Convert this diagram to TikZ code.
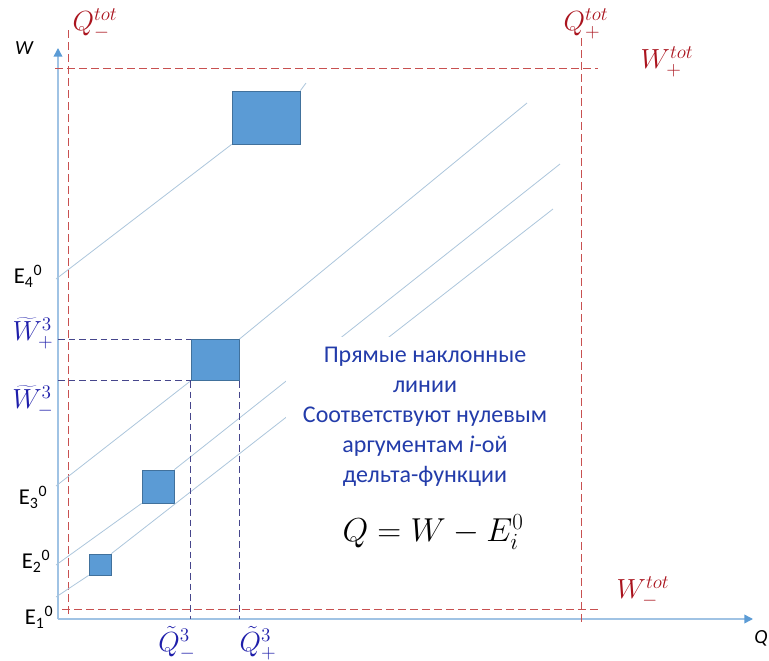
\documentclass[tikz,border=0pt]{standalone}
\usepackage[no-math]{fontspec}
\setmainfont{Carlito}
\usetikzlibrary{arrows.meta}
\definecolor{axisblue}{RGB}{160,195,228}
\definecolor{tipblue}{RGB}{91,155,213}
\definecolor{diagblue}{RGB}{172,198,220}
\definecolor{limred}{RGB}{200,80,80}
\definecolor{totred}{RGB}{170,20,30}
\definecolor{blkfill}{RGB}{91,155,213}
\definecolor{blkdraw}{RGB}{65,113,156}
\definecolor{projblue}{RGB}{70,70,140}
\definecolor{lblblue}{RGB}{30,30,170}
\definecolor{noteblue}{RGB}{35,60,170}
\begin{document}
\begin{tikzpicture}[x=0.75pt, y=-0.75pt,
  ax/.style={draw=axisblue, line width=1.1pt, -{Triangle[width=6.5pt,length=6.5pt,color=tipblue]}},
  axlbl/.style={font=\fontsize{15}{18}\selectfont\itshape, inner sep=0pt},
  lim/.style={draw=limred, line width=0.7pt, dash pattern=on 6pt off 3pt},
  proj/.style={draw=projblue, line width=0.8pt, dash pattern=on 5pt off 3pt},
  diag/.style={draw=diagblue, line width=0.6pt},
  blk/.style={fill=blkfill, draw=blkdraw, line width=0.6pt, inner sep=0pt},
  totl/.style={text=totred, font=\fontsize{22}{26}\selectfont, inner sep=0pt},
  tl/.style={text=lblblue, font=\fontsize{21}{25}\selectfont, inner sep=0pt},
  el/.style={font=\fontsize{17}{20}\selectfont, inner sep=0pt},
  note/.style={fill=white, text=noteblue, align=center, inner sep=0pt,
        minimum width=208pt, minimum height=120pt,
        font=\fontsize{18}{22.5}\selectfont},
]
  \useasboundingbox (0,0) rectangle (769,661);
  % axes
  \coordinate (o) at (58,619);
  \coordinate (wtop) at (58,48);
  \coordinate (qend) at (753,619);
  \draw[ax] (o) -- (wtop);
  \draw[ax] (o) -- (qend);
  \node[axlbl] (wlbl) at (24,48) {W};
  \node[axlbl] (qlbl) at (761,638) {Q};
  % total limits
  \draw[lim] (68,30) -- (68,614);
  \draw[lim] (581,38) -- (581,624);
  \draw[lim] (55,68) -- (598,68);
  \draw[lim] (62,609) -- (598,609);
  \node[totl] (qmin) at (95,24) {$Q_-^{tot}$};
  \node[totl] (qmax) at (586,24) {$Q_+^{tot}$};
  \node[totl] (wmax) at (667,62) {$W_+^{tot}$};
  \node[totl] (wmin) at (643,592) {$W_-^{tot}$};
  % blocks
  \node[blk, minimum width=51pt, minimum height=39.75pt] (s4) at (266,117.5) {};
  \node[blk, minimum width=36pt, minimum height=30.75pt] (s3) at (215,360) {};
  \node[blk, minimum width=24pt, minimum height=24.75pt] (s2) at (158,486.5) {};
  \node[blk, minimum width=16.5pt, minimum height=15.75pt] (s1) at (100,564.5) {};
  % sloped lines Q = W - E_i^0
  \coordinate (e4) at (56,279);
  \coordinate (e3) at (56,486);
  \coordinate (e2) at (56,565);
  \coordinate (e1) at (56,597);
  \coordinate (t4) at (306,83);
  \coordinate (t3) at (527,103);
  \coordinate (t2) at (560,164);
  \coordinate (t1) at (553,209);
  \draw[diag] (e4) -- (s4.south west);
  \draw[diag] (s4.north east) -- (t4);
  \draw[diag] (e3) -- (s3.south west);
  \draw[diag] (s3.north east) -- (t3);
  \draw[diag] (e2) -- (s2.south west);
  \draw[diag] (s2.north east) -- (t2);
  \draw[diag] (e1) -- (s1.south west);
  \draw[diag] (s1.north east) -- (t1);
  \node[el] (l4) at (28,276) {E\textsubscript{4}\textsuperscript{0}};
  \node[el] (l3) at (33,497) {E\textsubscript{3}\textsuperscript{0}};
  \node[el] (l2) at (36,561) {E\textsubscript{2}\textsuperscript{0}};
  \node[el] (l1) at (39,617) {E\textsubscript{1}\textsuperscript{0}};
  % projections of block 3
  \draw[proj] (s3.north west -| o) -- (s3.north west);
  \draw[proj] (s3.south west -| o) -- (s3.south west);
  \draw[proj] (s3.south west) -- (s3.south west |- o);
  \draw[proj] (s3.south east) -- (s3.south east |- o);
  \node[tl] (wp3) at (33,333) {$\widetilde{W}_+^3$};
  \node[tl] (wm3) at (33,401) {$\widetilde{W}_-^3$};
  \node[tl] (qm3) at (177,643) {$\tilde{Q}_-^3$};
  \node[tl] (qp3) at (258,643) {$\tilde{Q}_+^3$};
  % note
  \node[note] (txt) at (425,417) {Прямые наклонные\\линии\\Соответствуют нулевым\\аргументам {\itshape i}-ой\\дельта-функции};
  \node[font=\fontsize{25}{29}\selectfont, inner sep=0pt] (eq) at (433,532) {$Q = W - E_i^0$};
\end{tikzpicture}
\end{document}
